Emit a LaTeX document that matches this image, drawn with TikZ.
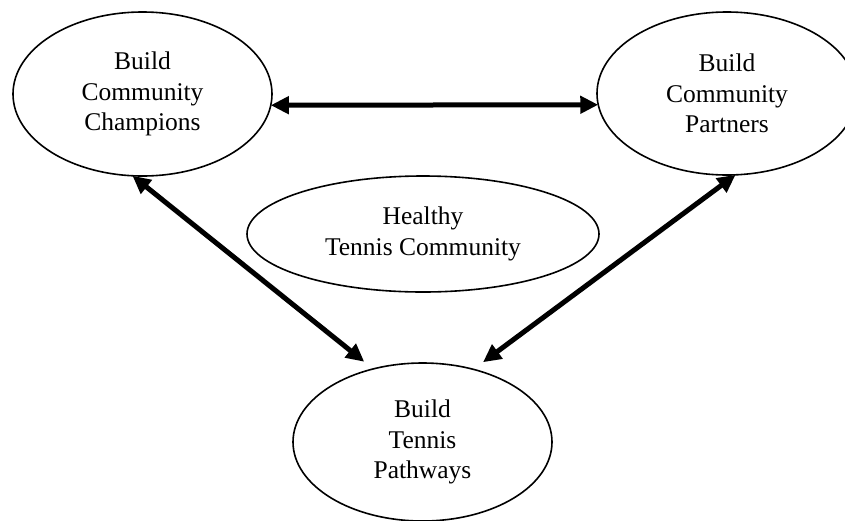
\documentclass[tikz,border=0pt]{standalone}
\usepackage{fontspec}
\setmainfont{Liberation Serif}
\usetikzlibrary{shapes.geometric,arrows.meta}

\begin{document}
\begin{tikzpicture}[x=1pt,y=-1pt,
  bubble/.style={ellipse,draw,line width=1.6pt,inner sep=0pt,outer sep=0pt,
    align=center,font=\fontsize{25.5}{30.5}\selectfont},
  link/.style={line width=5pt,
    {Triangle[length=18pt,width=17pt]}-{Triangle[length=18pt,width=17pt]}}]
  \useasboundingbox (0,0) rectangle (845,520);
  \clip (0,0) rectangle (845,520);

  % the four goals
  \node[bubble,minimum width=259pt,minimum height=164pt] (champ) at (142.5,94)
    {Build\\Community\\Champions};
  \node[bubble,minimum width=260pt,minimum height=163pt] (partn) at (727,93.5)
    {Build\\Community\\Partners};
  \node[bubble,minimum width=352pt,minimum height=116pt] (heal) at (423,234)
    {Healthy\\Tennis Community};
  \node[bubble,minimum width=259pt,minimum height=158pt] (path) at (422.5,442)
    {Build\\Tennis\\Pathways};

  % two-way links between the goals
  \draw[link] (champ.-5.4) -- (partn.185.6);
  \draw[link,shorten >=11.5pt] (champ.263.4) -- (path.124.7);
  \draw[link,shorten >=12pt] (partn.276.9) -- (path.55.7);
\end{tikzpicture}
\end{document}
